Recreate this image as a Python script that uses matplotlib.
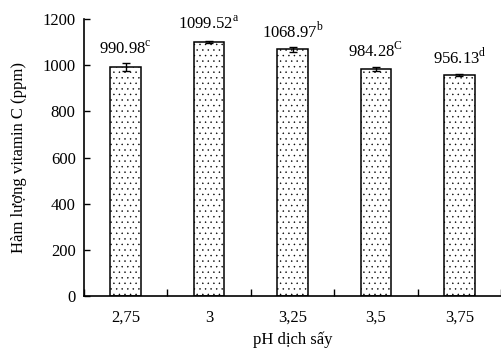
import matplotlib
matplotlib.use("Agg")
import matplotlib.pyplot as plt
import numpy as np

categories = ["2,75", "3", "3,25", "3,5", "3,75"]
values = [990.98, 1099.52, 1068.97, 984.28, 956.13]
errors = [17, 5, 11, 8, 4]
letters = ["c", "a", "b", "C", "d"]
yticks = [0, 200, 400, 600, 800, 1000, 1200]

plt.rcParams['font.family'] = ['Liberation Serif', 'DejaVu Serif']
plt.rcParams['hatch.linewidth'] = 0.3
plt.rcParams['hatch.color'] = '#555555'

W, H = 501, 349
fig = plt.figure(figsize=(W/100, H/100), dpi=100)
left, right, bottom, top = 84, 501, 296, 19
ax = fig.add_axes([left/W, 1 - bottom/H, (right-left)/W, (bottom-top)/H])

x = np.arange(len(categories))
ax.bar(x, values, width=0.365, color='white', edgecolor='black', linewidth=1.1,
       hatch='...', zorder=2)
ax.errorbar(x, values, yerr=errors, fmt='none', ecolor='black', elinewidth=1,
            capsize=3, capthick=1, zorder=3)

for xi, v, l in zip(x, values, letters):
    ax.annotate(f"{v:.2f}" + r"$^{\mathregular{" + l + "}}$", (xi, v),
                xytext=(0, 13), textcoords='offset points',
                ha='center', va='center', fontsize=12)

ax.set_ylim(0, 1200)
ax.set_yticks(yticks)
ax.set_xlim(-0.5, -0.5 + (right-left)/85)
ax.set_xticks(np.arange(-0.5, 5, 1.0))
ax.set_xticklabels([])
ax.set_xticks(x, minor=True)
ax.set_xticklabels(categories, minor=True)
ax.tick_params(axis='x', which='minor', length=0, pad=10, labelsize=12)
ax.tick_params(axis='x', which='major', direction='in', length=5, width=1)
ax.tick_params(axis='y', direction='in', length=4, width=1, labelsize=12, pad=6)
for s in ['top', 'right']:
    ax.spines[s].set_visible(False)
for s in ['left', 'bottom']:
    ax.spines[s].set_linewidth(1.2)

ax.set_ylabel("Hàm lượng vitamin C (ppm)", fontsize=12, labelpad=11)
ax.set_xlabel("pH dịch sấy", fontsize=12, labelpad=4)

fig.savefig("out.png", dpi=100)
